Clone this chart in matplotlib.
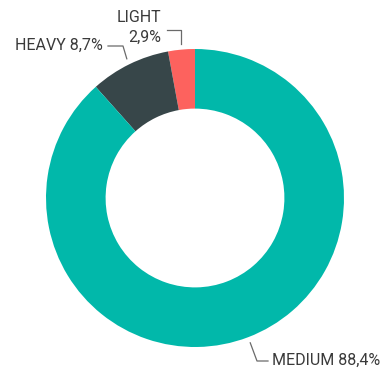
import matplotlib.pyplot as plt
import numpy as np

labels = ['LIGHT', 'HEAVY', 'MEDIUM']
shares = [2.9, 8.7, 88.4]
colors = ['#FD625E', '#374649', '#01B8AA']

W, H = 388, 371
cx, cy, r = 195, H - 198, 149

fig = plt.figure(figsize=(W / 100, H / 100), dpi=100)
ax = fig.add_axes([0, 0, 1, 1])
ax.pie(shares, colors=colors, startangle=90, counterclock=True,
       center=(cx, cy), radius=r, frame=True,
       wedgeprops=dict(width=r * 0.4, linewidth=0))
ax.set_xlim(0, W)
ax.set_ylim(0, H)
ax.set_aspect('equal')
ax.axis('off')


def pct(v):
    return '{:.1f}%'.format(v).replace('.', ',')


# mid angle of each slice, for the leader lines
angles = 90 + 3.6 * (np.cumsum(shares) - np.array(shares) / 2)
tip = [(cx + (r + 6) * np.cos(np.radians(a)), cy + (r + 6) * np.sin(np.radians(a)))
       for a in angles]

txt = dict(color='#3a3a3a', fontsize=11.5, family='Roboto')
lc = dict(color='#6a6a6a', lw=0.9)

# LIGHT: label stacked above its slice
x0, y0 = tip[0]
ax.plot([167, x0, x0], [H - 30, H - 30, y0], **lc)
ax.text(161, H - 17, labels[0], ha='right', va='center', **txt)
ax.text(161, H - 37, pct(shares[0]), ha='right', va='center', **txt)

# HEAVY
x1, y1 = tip[1]
ax.plot([108, 123, x1], [H - 46, H - 46, y1], **lc)
ax.text(103, H - 45, labels[1] + ' ' + pct(shares[1]), ha='right', va='center', **txt)

# MEDIUM
x2, y2 = tip[2]
ax.plot([x2, 257, 268], [y2, H - 361, H - 361], **lc)
ax.text(272, H - 360, labels[2] + ' ' + pct(shares[2]), ha='left', va='center', **txt)

fig.savefig('out.png', dpi=100)
